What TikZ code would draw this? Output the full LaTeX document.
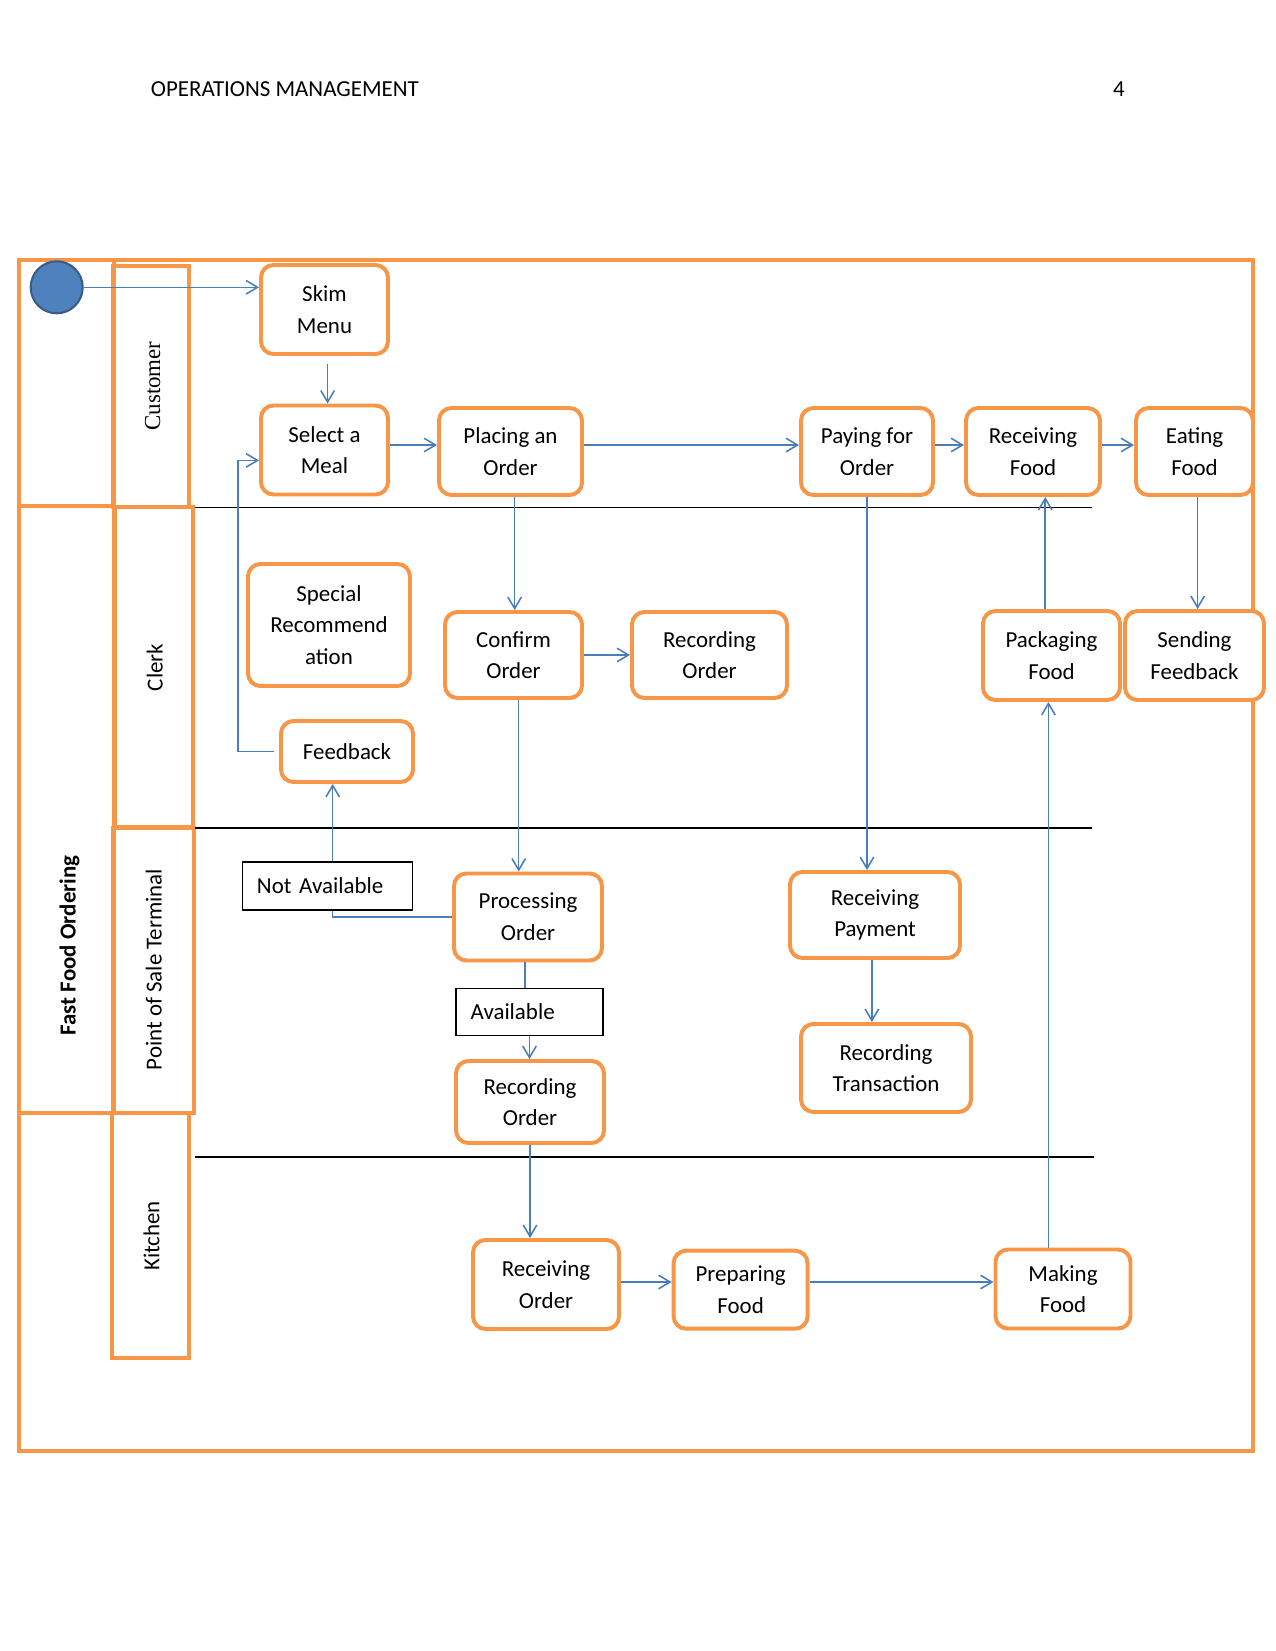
\documentclass[tikz,border=0pt]{standalone}
\usepackage{fontspec}
\setmainfont{Carlito}
\newfontfamily\lanefont{Liberation Serif}
\usepackage{xcolor}
\usetikzlibrary{arrows.meta}
\definecolor{LaneOrange}{RGB}{247,150,70}
\definecolor{FlowBlue}{RGB}{74,126,187}
\definecolor{StartBlue}{RGB}{79,129,189}
\definecolor{StartEdge}{RGB}{56,93,138}
\tikzset{
  act/.style={draw=LaneOrange,line width=1.9pt,rounded corners=6pt,fill=white,align=center,inner sep=2pt},
  dims/.style 2 args={minimum width=#1*0.48pt,minimum height=#2*0.48pt},
  guard/.style={draw=black,line width=0.6pt,fill=white,align=left,inner xsep=7pt},
  lane/.style={draw=LaneOrange,line width=2pt},
  sep/.style={draw=black,line width=0.8pt},
  flow/.style={->,draw=FlowBlue,line width=0.75pt},
  link/.style={draw=FlowBlue,line width=0.75pt}
}

\begin{document}
\begin{tikzpicture}[x=0.48pt,y=-0.48pt,>={Straight Barb[length=5.5pt,width=6.5pt]},
  font=\fontsize{11}{15.2}\selectfont]
  \useasboundingbox (0,0) rectangle (1275,1651);
  \node[anchor=west,inner sep=0pt] (title) at (150.5,89.5) {OPERATIONS MANAGEMENT};
  \node (page) at (1119,89.5) {4};

  % swimlanes
  \draw[lane] (19,260) rectangle (1253,1451);
  \draw[lane] (19,260) rectangle (114,506);
  \draw[lane] (113,266) rectangle (189,507);
  \draw[lane] (19,506) rectangle (114,1113);
  \draw[lane] (115,507) rectangle (193,827);
  \draw[lane] (113,828) rectangle (194,1113);
  \draw[lane] (112,1113) rectangle (189,1358);
  \draw[sep] (195,507.4) -- (1092,507.4);
  \draw[sep] (195,828) -- (1092,828);
  \draw[sep] (195,1157) -- (1094,1157);
  \node[rotate=90,font=\lanefont\fontsize{11}{13}\selectfont] (customer) at (152.7,386) {Customer};
  \node[rotate=90] (clerk) at (154.8,667.5) {Clerk};
  \node[rotate=90] (pos) at (153.7,969.6) {Point of Sale Terminal};
  \node[rotate=90] (kitchen) at (151.6,1236) {Kitchen};
  \node[rotate=90,font=\bfseries\fontsize{11}{13}\selectfont] (process) at (69.5,945.4) {Fast Food Ordering};

  % activities
  \node[circle,fill=StartBlue,draw=StartEdge,line width=1pt,minimum size=52*0.48pt,inner sep=0pt] (start) at (56.7,287.3) {};
  \node[act,dims={127}{89}] (skim) at (324.5,309.5) {Skim\\Menu};
  \node[act,dims={127}{89}] (select) at (324.5,450) {Select a\\Meal};
  \node[act,dims={143}{87}] (placing) at (510.5,451.5) {Placing an\\Order};
  \node[act,dims={132}{87}] (paying) at (867,451.5) {Paying for\\Order};
  \node[act,dims={134}{87}] (recfood) at (1033,451.5) {Receiving\\Food};
  \node[act,dims={117}{87}] (eating) at (1194.5,451.5) {Eating\\Food};
  \node[act,dims={162}{122}] (special) at (329,625) {Special\\Recommend\\ation};
  \node[act,dims={137}{86}] (confirm) at (513.5,655) {Confirm\\Order};
  \node[act,dims={155}{86}] (reccl) at (709.5,655) {Recording\\Order};
  \node[act,dims={137}{89}] (packaging) at (1051.5,655.5) {Packaging\\Food};
  \node[act,dims={139}{89}] (sending) at (1194.5,655.5) {Sending\\Feedback};
  \node[act,dims={132}{61}] (feedback) at (347,751.5) {Feedback};
  \node[guard,text width=67.7pt,minimum height=48*0.48pt] (notavail) at (327.5,886) {Not Available};
  \node[act,dims={148}{87}] (processing) at (528,917) {Processing\\Order};
  \node[act,dims={170}{86}] (recpay) at (875,915) {Receiving\\Payment};
  \node[guard,text width=56.5pt,minimum height=47*0.48pt] (available) at (529.5,1012) {Available};
  \node[act,dims={148}{82}] (recpos) at (530,1102) {Recording\\Order};
  \node[act,dims={170}{88}] (rectrans) at (886,1068) {Recording\\Transaction};
  \node[act,dims={146}{89}] (recvorder) at (546,1284.5) {Receiving\\Order};
  \node[act,dims={134}{78}] (preparing) at (740.6,1289.7) {Preparing\\Food};
  \node[act,dims={135}{79}] (making) at (1063,1289) {Making\\Food};

  % flows
  \coordinate (crow) at (0,445);
  \coordinate (krow) at (0,1282);
  \coordinate (fbturn) at (238,0);
  \draw[flow] (start.east) -- (start.east -| skim.west);
  \draw[flow,shorten <=4pt] ([xshift=1.5pt]skim.south) -- ([xshift=1.5pt]select.north);
  \draw[flow] (select.east |- crow) -- (placing.west |- crow);
  \draw[flow] (placing.east |- crow) -- (paying.west |- crow);
  \draw[flow] (paying.east |- crow) -- (recfood.west |- crow);
  \draw[flow] (recfood.east |- crow) -- (eating.west |- crow);
  \draw[flow] ([xshift=2pt]placing.south) -- ([xshift=2pt]placing.south |- confirm.north);
  \draw[flow] (confirm.east) -- (reccl.west);
  \draw[flow] ([xshift=2.5pt]confirm.south) -- ([xshift=2.5pt]confirm.south |- processing.north);
  \draw[flow] (paying.south) -- (paying.south |- recpay.north);
  \draw[flow] ([xshift=-1.5pt]recpay.south) -- ([xshift=-1.5pt]recpay.south |- rectrans.north);
  \draw[link] ([xshift=-1.5pt]processing.south) -- ([xshift=-1.5pt]processing.south |- available.north);
  \draw[flow] (available.south) -- (available.south |- recpos.north);
  \draw[link] (processing.west) -| ([xshift=2.5pt]notavail.south);
  \draw[flow] ([xshift=2.5pt]notavail.north) -- ([xshift=2.5pt]notavail.north |- feedback.south);
  \draw[flow] ([xshift=-2.5pt]feedback.west) -| ([yshift=-5pt]fbturn |- select.west) -- ([yshift=-5pt]select.west);
  \draw[flow] (recpos.south) -- (recpos.south |- recvorder.north);
  \draw[flow] (recvorder.east |- krow) -- (preparing.west |- krow);
  \draw[flow] (preparing.east |- krow) -- (making.west |- krow);
  \draw[flow] ([xshift=-7pt]making.north) -- ([xshift=-7pt]making.north |- packaging.south);
  \draw[flow] ([xshift=-3pt]packaging.north) -- ([xshift=-3pt]packaging.north |- recfood.south);
  \draw[flow] ([xshift=1.5pt]eating.south) -- ([xshift=1.5pt]eating.south |- sending.north);
\end{tikzpicture}
\end{document}
